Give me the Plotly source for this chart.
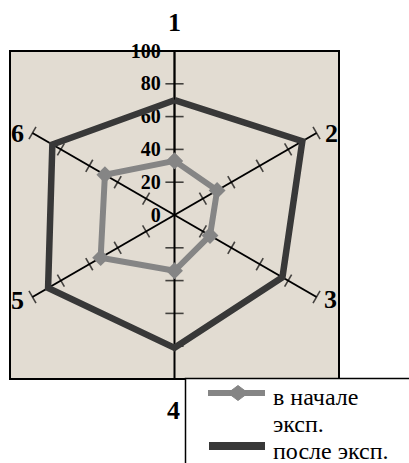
import plotly.graph_objects as go

categories = ["1", "2", "3", "4", "5", "6"]
before_vals = [33, 30, 25, 34, 52, 49]
after_vals = [70, 90, 76, 81, 89, 86]
series_names = ["в начале", "эксп.", "после эксп."]
tick_vals = [0, 20, 40, 60, 80, 100]

W, H = 409, 463
SERIF = "Times New Roman, Liberation Serif, DejaVu Serif, serif"
GRAY = "#858585"
DARK = "#383838"

def px(x):
    return x / W

def py(y):
    return 1 - y / H

fig = go.Figure()

# tick crossings on every spoke
tr, tt, ta, ts = [], [], [], []
for k, c in enumerate(categories):
    for v in tick_vals[1:]:
        tr.append(v)
        tt.append(c)
        ta.append(60 * k)
        ts.append(13 if k in (0, 3) else 10)
fig.add_trace(go.Scatterpolar(
    r=tr, theta=tt, mode="markers", showlegend=False, hoverinfo="skip",
    marker=dict(symbol="line-ew", size=ts, angle=ta,
                line=dict(color="black", width=1.6)),
))

fig.add_trace(go.Scatterpolar(
    r=before_vals + before_vals[:1], theta=categories + categories[:1],
    mode="lines+markers", name=series_names[0] + " " + series_names[1],
    line=dict(color=GRAY, width=6), showlegend=False,
    marker=dict(symbol="diamond", size=13, color=GRAY),
))
fig.add_trace(go.Scatterpolar(
    r=after_vals + after_vals[:1], theta=categories + categories[:1],
    mode="lines", name=series_names[2], showlegend=False,
    line=dict(color=DARK, width=6.5),
))

# category labels
label_pos = {"1": (174, 22), "2": (331, 134), "3": (330, 299),
             "4": (173, 410), "5": (17, 300), "6": (17, 133)}
annotations = []
for c in categories:
    x, y = label_pos[c]
    annotations.append(dict(x=px(x), y=py(y), xref="paper", yref="paper",
                            text=c, showarrow=False,
                            font=dict(family=SERIF, size=26, color="black",
                                      weight="bold"),
                            xanchor="center", yanchor="middle"))

# legend texts (drawn manually to reproduce the reference's compact box)
for text, y in zip(series_names, [397, 424, 451]):
    annotations.append(dict(x=px(271), y=py(y), xref="paper", yref="paper",
                            text=text, showarrow=False,
                            font=dict(family=SERIF, size=24, color="black"),
                            xanchor="left", yanchor="middle"))

shapes = [
    dict(type="rect", xref="paper", yref="paper",
         x0=px(10), x1=px(339), y0=py(379), y1=py(51),
         fillcolor="#e2dcd2", line=dict(color="black", width=2), layer="below"),
    dict(type="rect", xref="paper", yref="paper",
         x0=px(185.5), x1=px(420), y0=py(378.5), y1=py(470),
         fillcolor="white", line=dict(color="black", width=1.5), layer="above"),
    # legend samples
    dict(type="line", xref="paper", yref="paper",
         x0=px(208), x1=px(265), y0=py(393), y1=py(393),
         line=dict(color=GRAY, width=6), layer="above"),
    dict(type="path", xref="paper", yref="paper",
         path=(f"M {px(228)} {py(393)} L {px(238)} {py(385.5)} "
               f"L {px(248)} {py(393)} L {px(238)} {py(400.5)} Z"),
         fillcolor=GRAY, line=dict(color=GRAY, width=1), layer="above"),
    dict(type="line", xref="paper", yref="paper",
         x0=px(209), x1=px(265), y0=py(446), y1=py(446),
         line=dict(color=DARK, width=8), layer="above"),
]

fig.update_layout(
    width=W, height=H,
    margin=dict(l=0, r=0, t=0, b=0, autoexpand=False),
    paper_bgcolor="white",
    font=dict(family=SERIF, color="black"),
    annotations=annotations,
    shapes=shapes,
    showlegend=False,
    polar=dict(
        domain=dict(x=[px(10), px(339)], y=[py(379), py(51)]),
        bgcolor="rgba(0,0,0,0)",
        gridshape="linear",
        radialaxis=dict(range=[0, 100], angle=90, side="counterclockwise",
                        tickvals=tick_vals, ticks="outside", ticklen=6,
                        tickcolor="rgba(0,0,0,0)", showgrid=False,
                        showline=True, linecolor="black", linewidth=1.6,
                        tickangle=90, layer="below traces",
                        tickfont=dict(family=SERIF, size=20, color="black",
                                      weight="bold")),
        angularaxis=dict(categoryarray=categories, categoryorder="array",
                         rotation=90, direction="clockwise",
                         showgrid=True, gridcolor="black", gridwidth=1.6,
                         showline=False, ticks="", showticklabels=False,
                         layer="below traces"),
    ),
)

fig.write_html("out.html", config={"displayModeBar": False},
               post_script="document.body.style.margin='0';")
